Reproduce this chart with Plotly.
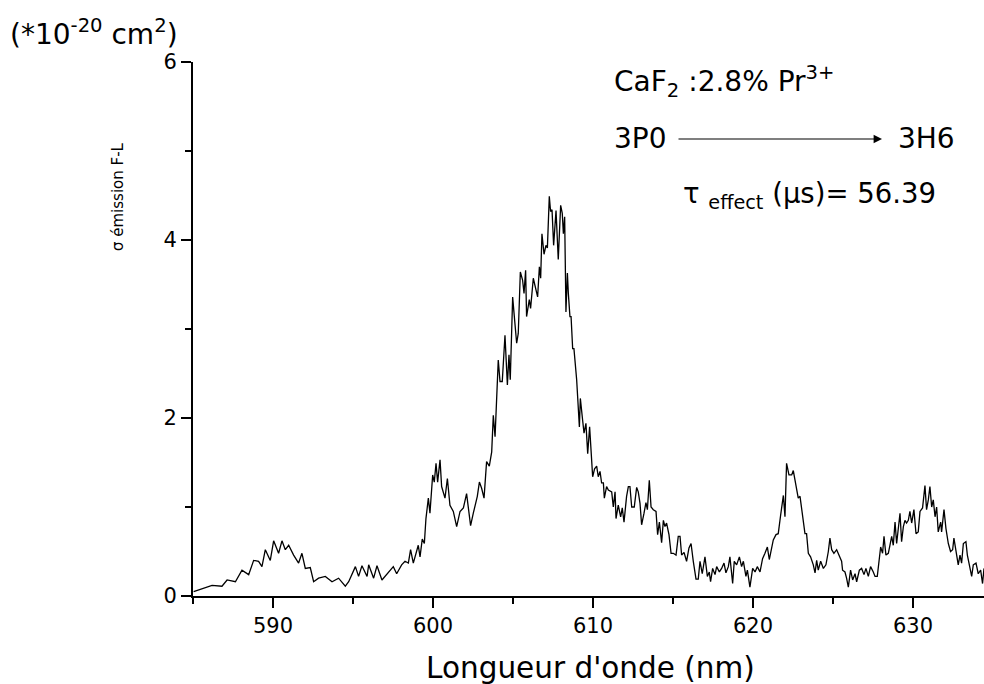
import plotly.graph_objects as go

wavelength = [
    585.04, 585.56, 586.19, 586.81, 587.13, 587.65, 588.06, 588.48, 588.79, 589.10,
    589.31, 589.52, 589.83, 590.04, 590.35, 590.56, 590.77, 590.98, 591.29, 591.60,
    591.81, 592.02, 592.33, 592.54, 592.85, 593.27, 593.69, 594.10, 594.52, 594.73,
    595.15, 595.35, 595.56, 595.88, 595.98, 596.29, 596.50, 596.81, 597.23,
    597.52, 597.73, 598.04, 598.25, 598.46, 598.60, 598.77, 599.08, 599.19, 599.33,
    599.46, 599.56, 599.71, 599.81, 599.98, 600.08, 600.19, 600.29, 600.44, 600.54,
    600.75, 600.90, 601.06, 601.27, 601.48, 601.69, 601.90, 602.10, 602.35, 602.52,
    602.77, 602.90, 603.04, 603.19, 603.35, 603.52, 603.67, 603.77, 603.88,
    604.08, 604.19, 604.33, 604.50, 604.65, 604.75, 604.83, 604.98, 605.06, 605.23,
    605.33, 605.46, 605.60, 605.69, 605.79, 605.85, 606.02, 606.10, 606.27, 606.42,
    606.54, 606.65, 606.73, 606.81, 606.94, 607.06, 607.15, 607.27, 607.35, 607.44,
    607.54, 607.69, 607.83, 607.98, 608.08, 608.15, 608.23, 608.31, 608.40, 608.46,
    608.56, 608.63, 608.73, 608.81, 608.98, 609.15, 609.21, 609.35, 609.44, 609.56,
    609.67, 609.79, 609.98,
    610.10, 610.23, 610.33, 610.44, 610.54, 610.65, 610.71, 610.85, 610.96, 611.17,
    611.27, 611.38, 611.44, 611.58, 611.73, 611.83, 611.94, 612.10, 612.21, 612.31,
    612.42, 612.58, 612.73, 612.83, 612.94, 613.04, 613.19, 613.31, 613.40, 613.52,
    613.63, 613.77, 613.94, 614.04, 614.15, 614.29, 614.40, 614.50, 614.60, 614.75,
    614.88, 615.02, 615.19, 615.33, 615.44, 615.54, 615.69, 615.85, 616.00, 616.13,
    616.27, 616.44, 616.58, 616.69, 616.83, 617.00, 617.15, 617.27, 617.35, 617.48,
    617.63, 617.73, 617.90, 618.04, 618.19, 618.31, 618.46, 618.56, 618.73, 618.83,
    618.98, 619.15, 619.29, 619.40, 619.56, 619.65, 619.81, 619.98, 620.13, 620.27,
    620.44, 620.60, 620.75, 620.90, 621.02, 621.17, 621.27, 621.44, 621.58, 621.73,
    621.90, 622.00, 622.10, 622.25,
    622.42, 622.52, 622.63, 622.73, 622.83, 622.94, 623.08, 623.25, 623.35, 623.46,
    623.60, 623.77, 623.88, 623.98, 624.08, 624.23, 624.40, 624.56, 624.71, 624.81,
    624.92, 625.06, 625.23, 625.40, 625.54, 625.60, 625.75, 625.85, 625.96, 626.10,
    626.23, 626.38, 626.48, 626.65, 626.79, 626.94, 627.06, 627.21, 627.35, 627.52,
    627.63, 627.77, 627.90, 627.98, 628.10, 628.19, 628.31, 628.46, 628.56, 628.67,
    628.77, 628.88, 628.98, 629.08, 629.19, 629.29, 629.40, 629.50, 629.60, 629.71,
    629.81, 629.92, 630.06, 630.19, 630.33, 630.44, 630.60, 630.75, 630.85, 630.96,
    631.06, 631.17, 631.27, 631.38, 631.48, 631.58, 631.73, 631.79, 631.94, 632.06,
    632.21, 632.35, 632.48, 632.56, 632.69, 632.83, 632.94, 633.04, 633.15, 633.31,
    633.40, 633.52, 633.67, 633.77, 633.94, 634.08, 634.23, 634.35, 634.44,
]

sigma_emission = [
    0.05, 0.08, 0.12, 0.11, 0.18, 0.16, 0.29, 0.24, 0.40, 0.39,
    0.33, 0.52, 0.40, 0.62, 0.48, 0.62, 0.52, 0.57, 0.46, 0.37,
    0.48, 0.31, 0.32, 0.16, 0.20, 0.22, 0.16, 0.20, 0.11, 0.16,
    0.33, 0.22, 0.34, 0.22, 0.35, 0.20, 0.34, 0.18, 0.27,
    0.33, 0.25, 0.35, 0.39, 0.37, 0.52, 0.37, 0.57, 0.44, 0.64,
    0.59, 0.87, 1.10, 0.93, 1.36, 1.28, 1.49, 1.28, 1.53, 1.23,
    1.10, 1.32, 1.02, 0.95, 0.78, 0.95, 0.99, 1.15, 0.79, 0.93,
    1.12, 1.28, 1.21, 1.10, 1.51, 1.46, 1.62, 2.03, 1.79,
    2.65, 2.41, 2.41, 2.93, 2.37, 2.71, 2.43, 3.36, 3.19, 2.84,
    2.95, 3.64, 3.55, 3.40, 3.66, 3.14, 3.33, 3.23, 3.57, 3.46,
    3.36, 3.70, 3.57, 4.07, 3.84, 3.94, 3.91, 4.49, 4.32, 4.34,
    3.94, 4.33, 3.78, 4.39, 4.30, 4.07, 4.26, 3.19, 3.63, 3.40,
    3.14, 3.14, 2.78, 2.78, 2.43, 1.90, 2.22, 1.98, 1.83, 1.94,
    1.60, 1.90, 1.34,
    1.43, 1.46, 1.34, 1.40, 1.27, 1.27, 1.10, 1.23, 1.19, 1.17,
    1.00, 1.17, 0.87, 1.02, 0.89, 0.99, 0.83, 1.12, 1.23, 1.23,
    1.00, 1.00, 1.22, 1.17, 1.04, 0.80, 0.93, 1.05, 0.97, 1.30,
    1.00, 0.97, 0.95, 0.69, 0.83, 0.60, 0.85, 0.78, 0.82, 0.69,
    0.48, 0.48, 0.46, 0.67, 0.67, 0.46, 0.49, 0.39, 0.54, 0.59,
    0.39, 0.19, 0.19, 0.39, 0.25, 0.44, 0.22, 0.27, 0.16, 0.31,
    0.24, 0.33, 0.27, 0.31, 0.37, 0.26, 0.33, 0.44, 0.14, 0.39,
    0.35, 0.44, 0.33, 0.39, 0.22, 0.29, 0.10, 0.31, 0.27, 0.33,
    0.27, 0.42, 0.48, 0.55, 0.41, 0.57, 0.63, 0.69, 0.70, 0.91,
    1.13, 0.89, 1.49, 1.36,
    1.36, 1.41, 1.30, 1.21, 1.10, 1.12, 0.95, 0.70, 0.70, 0.48,
    0.44, 0.35, 0.26, 0.40, 0.29, 0.39, 0.31, 0.35, 0.50, 0.65,
    0.52, 0.48, 0.52, 0.44, 0.39, 0.29, 0.27, 0.20, 0.10, 0.29,
    0.18, 0.25, 0.16, 0.29, 0.31, 0.24, 0.31, 0.22, 0.33, 0.27,
    0.22, 0.22, 0.44, 0.55, 0.48, 0.67, 0.46, 0.48, 0.57, 0.67,
    0.57, 0.83, 0.59, 0.76, 0.93, 0.61, 0.78, 0.85, 0.82, 0.85,
    0.95, 0.82, 0.97, 0.70, 0.72, 0.95, 0.99, 1.24, 0.97, 1.08,
    1.23, 1.00, 1.08, 0.89, 1.00, 0.72, 0.83, 0.72, 0.97, 0.76,
    0.59, 0.50, 0.52, 0.65, 0.52, 0.35, 0.46, 0.37, 0.59, 0.61,
    0.46, 0.35, 0.22, 0.35, 0.37, 0.25, 0.29, 0.14, 0.31,
]

x_ticks = [590, 600, 610, 620, 630]
y_ticks = [0, 2, 4, 6]
x_range = [585, 634.44]
y_range = [0, 6]

FONT = "DejaVu Sans"
L, R, T, B = 193, 0, 62, 88
W, H = 984, 684
PW, PH = W - L - R, H - T - B


def px(xp):
    return (xp - L) / PW


def py(yp):
    return (H - B - yp) / PH


fig = go.Figure()
fig.add_trace(go.Scatter(
    x=wavelength, y=sigma_emission, mode="lines",
    line=dict(color="black", width=1.3), showlegend=False,
))

axis_common = dict(
    showline=True, linecolor="black", linewidth=2,
    ticks="outside", ticklen=10, tickwidth=2, tickcolor="black",
    showgrid=False, zeroline=False,
    tickfont=dict(family=FONT, size=21, color="black"),
)

fig.update_xaxes(
    range=x_range, tickvals=x_ticks, ticktext=[str(v) for v in x_ticks],
    minor=dict(tickvals=[585, 595, 605, 615, 625], ticklen=6, tickwidth=2,
               ticks="outside", tickcolor="black"),
    **axis_common,
)
fig.update_yaxes(
    range=y_range, tickvals=y_ticks, ticktext=[str(v) for v in y_ticks],
    minor=dict(tickvals=[1, 3, 5], ticklen=6, tickwidth=2,
               ticks="outside", tickcolor="black"),
    **axis_common,
)

annots = [
    dict(text="Longueur d'onde (nm)", x=px(590), y=py(668), size=29.5,
         xanchor="center", yanchor="middle"),
    dict(text="σ émission F-L", x=px(118), y=py(197), size=15,
         xanchor="center", yanchor="middle", textangle=-90),
    dict(text="(*10<sup>-20</sup> cm<sup>2</sup>)", x=px(8), y=py(33), size=28,
         xanchor="left", yanchor="middle"),
    dict(text="CaF<sub>2</sub> :2.8% Pr<sup>3+</sup>", x=px(612), y=py(82), size=28,
         xanchor="left", yanchor="middle"),
    dict(text="3P0", x=px(612), y=py(138), size=28,
         xanchor="left", yanchor="middle"),
    dict(text="3H6", x=px(896), y=py(138), size=28,
         xanchor="left", yanchor="middle"),
    dict(text="τ <sub>effect</sub> (μs)= 56.39", x=px(681), y=py(196), size=27.5,
         xanchor="left", yanchor="middle"),
]
for a in annots:
    fig.add_annotation(
        text=a["text"], xref="paper", yref="paper", x=a["x"], y=a["y"],
        xanchor=a["xanchor"], yanchor=a["yanchor"], showarrow=False,
        textangle=a.get("textangle", 0),
        font=dict(family=FONT, size=a["size"], color="black"),
    )

# arrow 3P0 -> 3H6
fig.add_annotation(
    xref="paper", yref="paper", x=px(882), y=py(139), ax=-205, ay=0,
    text="", showarrow=True, arrowhead=2, arrowsize=1.4, arrowwidth=1.2,
    arrowcolor="black",
)

fig.update_layout(
    width=W, height=H,
    margin=dict(l=L, r=R, t=T, b=B, pad=0),
    paper_bgcolor="white", plot_bgcolor="white",
    font=dict(family=FONT, color="black"),
)

fig.write_html("out.html")
